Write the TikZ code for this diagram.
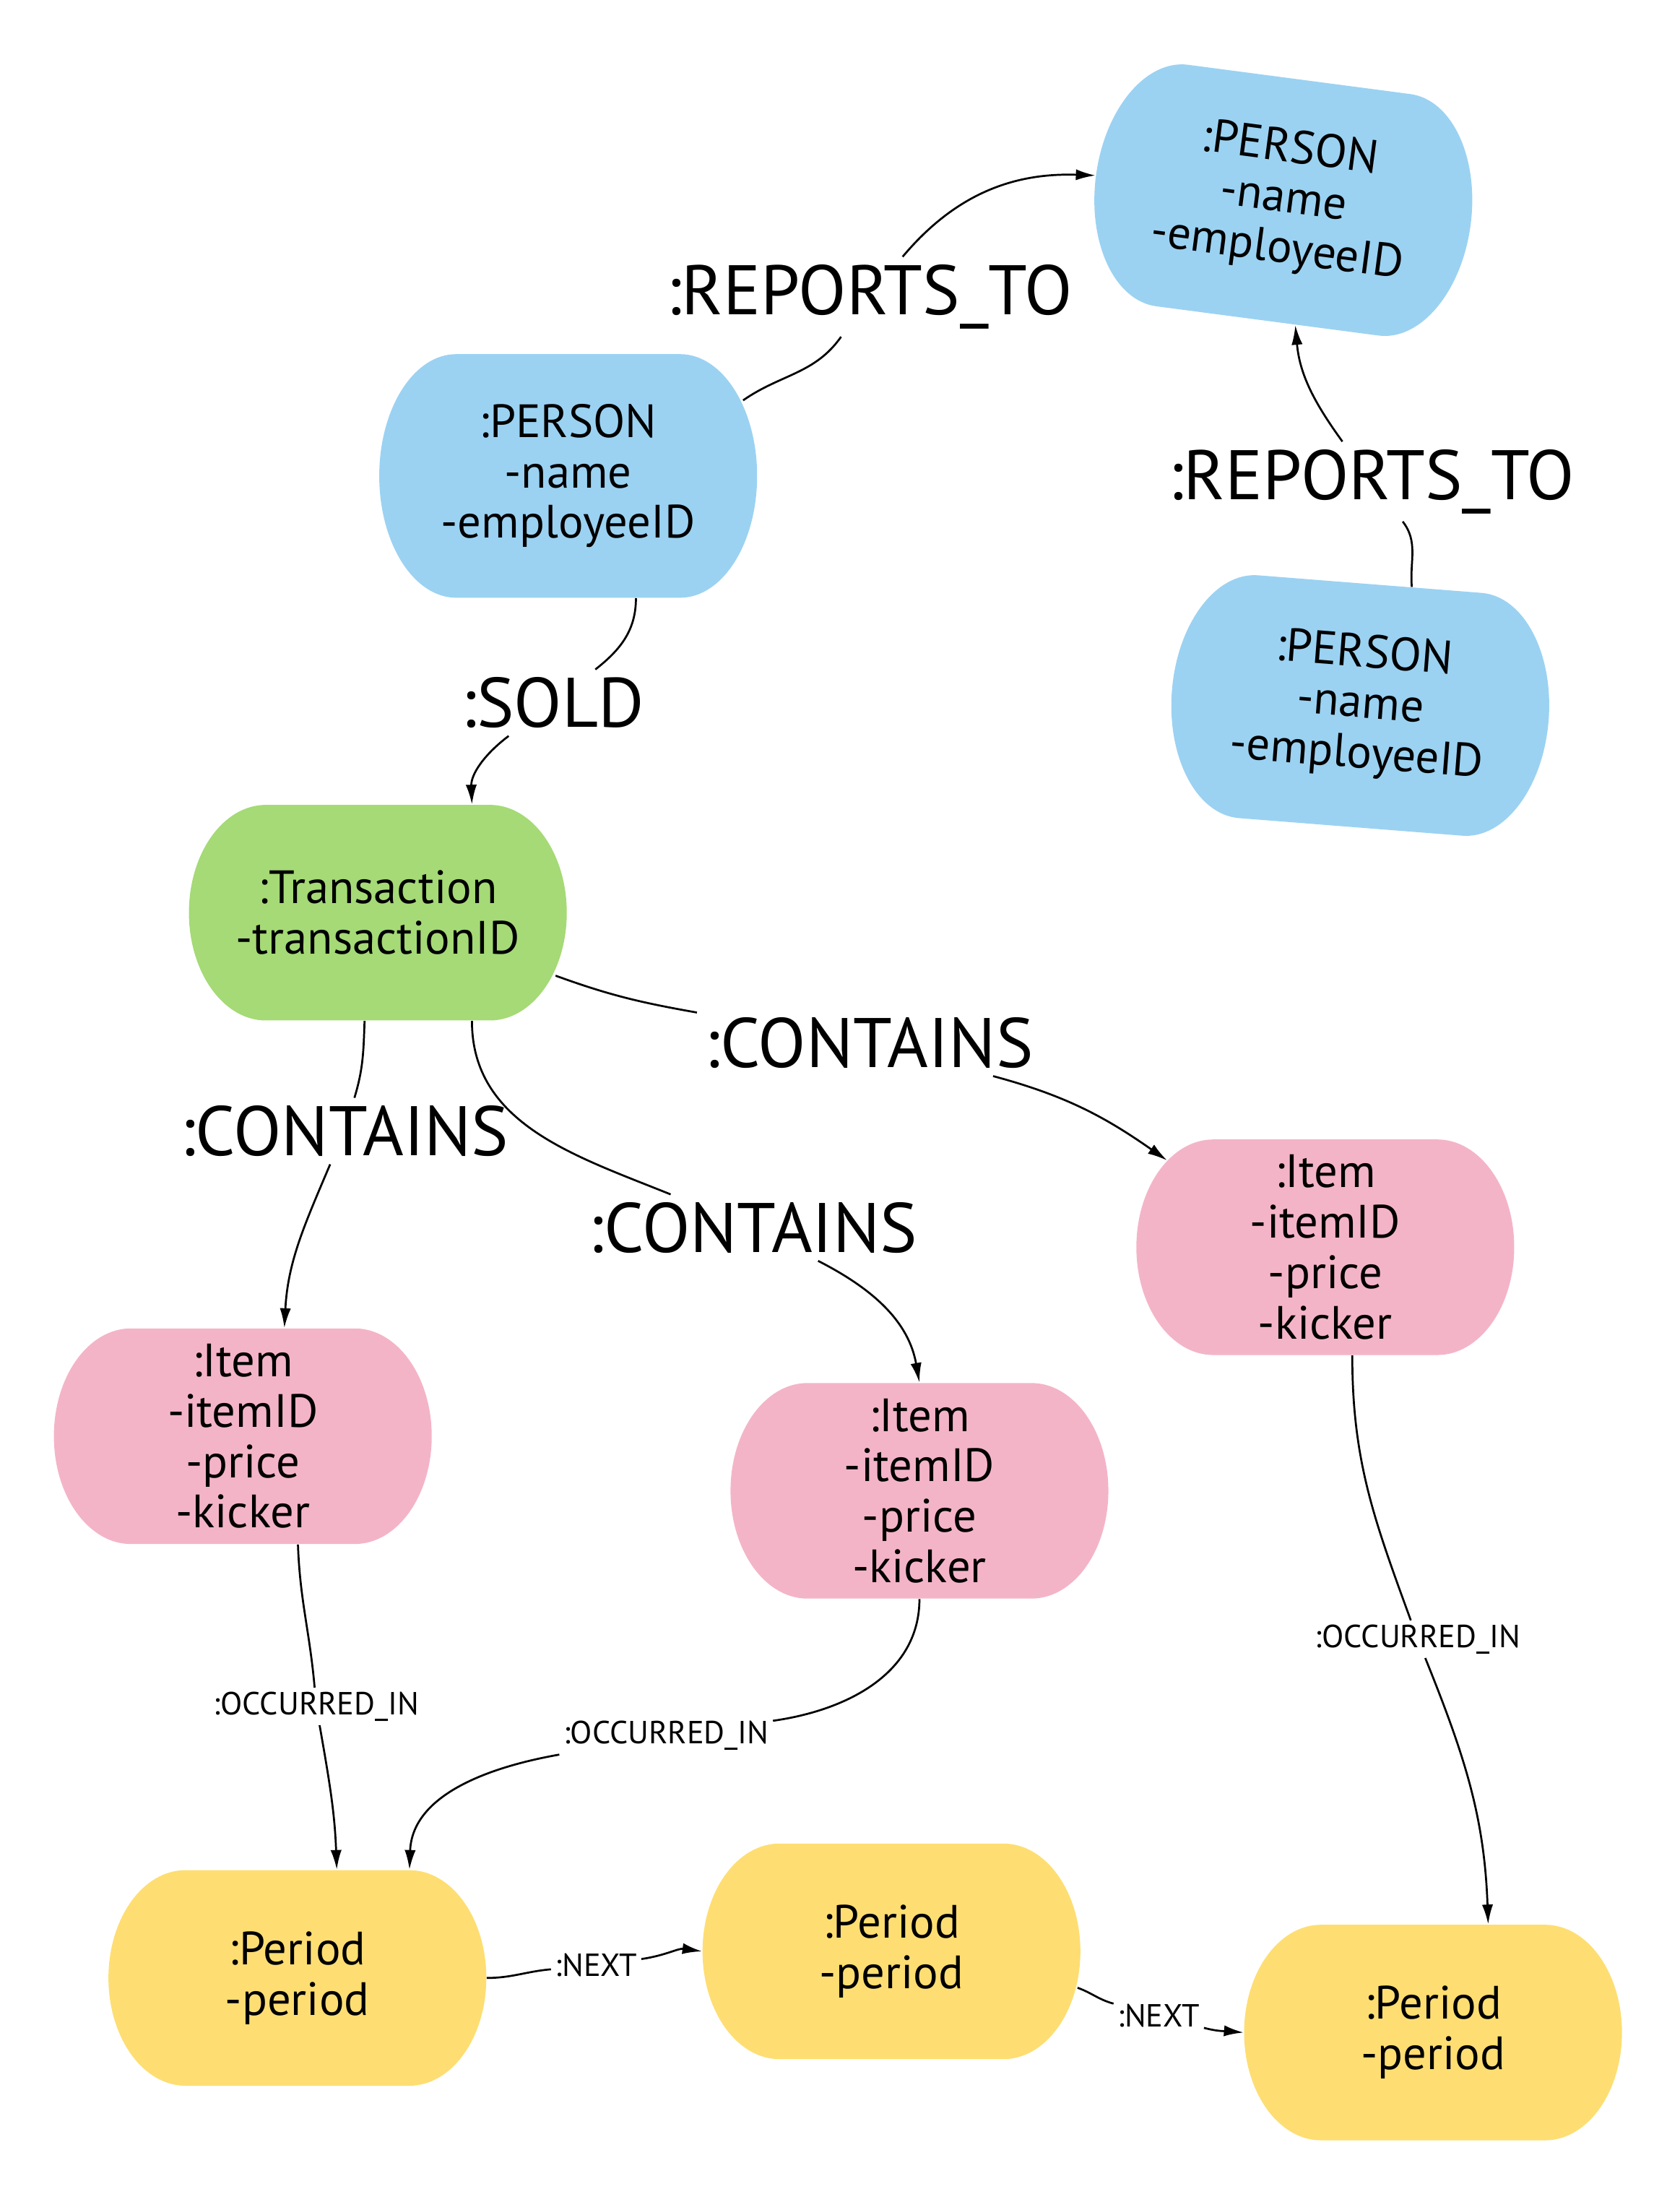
\documentclass[tikz,border=0pt]{standalone}
\usepackage{fontspec}
\setmainfont{PT Sans}
\usetikzlibrary{arrows.meta,backgrounds}

\definecolor{personblue}{RGB}{155,210,242}
\definecolor{transgreen}{RGB}{165,218,118}
\definecolor{itempink}{RGB}{244,180,200}
\definecolor{periodyellow}{RGB}{254,222,114}

% fill behind a node: flat top and bottom, elliptic sides
% #1 node, #2 colour, #3 half height, #4 rotation
\newcommand{\entityshape}[4]{%
  \fill[#2, shift={(#1.center)}, rotate=#4]
    (-80,#3) -- (80,#3)
    arc[start angle=90, end angle=-90, x radius=55, y radius=#3]
    -- (-80,-#3)
    arc[start angle=270, end angle=90, x radius=55, y radius=#3]
    -- cycle;}

\begin{document}
\begin{tikzpicture}[x=0.02cm,y=0.02cm,
  entity/.style={rectangle, minimum width=5.4cm, minimum height=3.08cm,
    inner sep=0pt, align=center, font=\fontsize{19}{20.5}\selectfont},
  person/.style={entity, minimum height=3.48cm},
  biglabel/.style={fill=white, inner sep=3pt, font=\fontsize{28.5}{30}\selectfont},
  smalllabel/.style={fill=white, inner sep=1.5pt, font=\fontsize{13}{14}\selectfont},
  rel/.style={line width=0.8pt, -{Latex[length=8pt,width=4.5pt]}}]
\useasboundingbox (0,0) rectangle (1200,-1569.5);

% The people
\node[person, rotate=-7.5] (p1) at (917,-143) {:PERSON\\-name\\-employeeID};
\node[person] (p2) at (406,-340) {:PERSON\\-name\\-employeeID};
\node[person, rotate=-4.5] (p3) at (972,-504) {:PERSON\\-name\\-employeeID};

% Transaction and its items
\node[entity] (t) at (270,-652) {:Transaction\\-transactionID};
\node[entity] (i1) at (173.5,-1026) {:Item\\-itemID\\-price\\-kicker};
\node[entity] (i2) at (657,-1065) {:Item\\-itemID\\-price\\-kicker};
\node[entity] (i3) at (947,-891) {:Item\\-itemID\\-price\\-kicker};

% Periods
\node[entity] (pe1) at (212.5,-1413) {:Period\\-period};
\node[entity] (pe2) at (637,-1394) {:Period\\-period};
\node[entity] (pe3) at (1024,-1452) {:Period\\-period};

\begin{pgfonlayer}{background}
  \entityshape{p1}{personblue}{87}{-7.5}
  \entityshape{p2}{personblue}{87}{0}
  \entityshape{p3}{personblue}{87}{-4.5}
  \entityshape{t}{transgreen}{77}{0}
  \entityshape{i1}{itempink}{77}{0}
  \entityshape{i2}{itempink}{77}{0}
  \entityshape{i3}{itempink}{77}{0}
  \entityshape{pe1}{periodyellow}{77}{0}
  \entityshape{pe2}{periodyellow}{77}{0}
  \entityshape{pe3}{periodyellow}{77}{0}
\end{pgfonlayer}

% Relationship labels
\node[biglabel] (rt1) at (621,-212) {:REPORTS\_TO};
\node[biglabel] (rt2) at (980,-344) {:REPORTS\_TO};
\node[biglabel] (sold) at (395,-502) {:SOLD};
\node[biglabel] (c1) at (246,-808) {:CONTAINS};
\node[biglabel] (c2) at (538,-877) {:CONTAINS};
\node[biglabel] (c3) at (621,-745) {:CONTAINS};
\node[smalllabel] (o1) at (226,-1219) {:OCCURRED\_IN};
\node[smalllabel] (o2) at (476,-1240) {:OCCURRED\_IN};
\node[smalllabel] (o3) at (1013,-1171) {:OCCURRED\_IN};
\node[smalllabel] (n1) at (426,-1404) {:NEXT};
\node[smalllabel] (n2) at (828,-1440) {:NEXT};

% Draw the relationships through their labels
\draw[rel] ([shift={(125,54)}]p2.center) to[out=35,in=235] (rt1)
  to[out=50,in=178] (p1.west);
\draw[rel] (p3.71) to[out=95,in=-52] (rt2) to[out=126,in=-85] (p1.-77);
\draw[rel] (p2.-61) to[out=-90,in=38] (sold) to[out=217,in=92] (t.49);
\draw[rel] (t.-97) to[out=-92,in=73] (c1) to[out=247,in=87] (i1.69);
\draw[rel] (t.-49) to[out=-90,in=158] (c2) to[out=-27,in=100] (i2.90);
\draw[rel] ([shift={(127,-45)}]t.center) to[out=-20,in=170] (c3)
  to[out=-15,in=145] ([shift={(-113,62)}]i3.center);
\draw[rel] (i1.-63) to[out=-88,in=95] (o1) to[out=-80,in=92] (pe1.70);
\draw[rel] (i2.-90) to[out=-90,in=8] (o2) to[out=190,in=88] (pe1.44);
\draw[rel] (i3.-76) to[out=-90,in=110] (o3) to[out=-68,in=92] (pe3.63);
\draw[rel] (pe1.east) to[out=0,in=185] (n1) to[out=8,in=172] (pe2.west);
\draw[rel] ([shift={(133,-26)}]pe2.center) to[out=-20,in=165] (n2)
  to[out=-15,in=175] (pe3.west);

\end{tikzpicture}
\end{document}
